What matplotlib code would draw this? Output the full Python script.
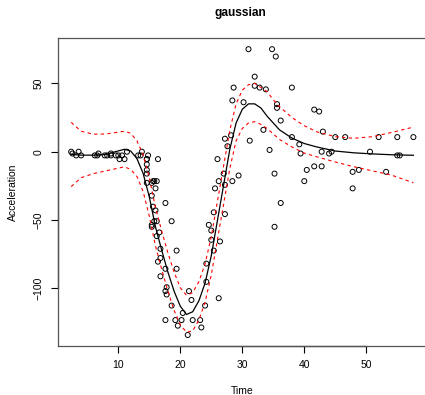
import numpy as np
import matplotlib
matplotlib.use("Agg")
from matplotlib import pyplot as plt
from matplotlib import transforms
from matplotlib import font_manager as fm

# pick regular (not narrow) Liberation Sans files
reg = [f for f in fm.findSystemFonts() if f.endswith('LiberationSans-Regular.ttf')]
bld = [f for f in fm.findSystemFonts() if f.endswith('LiberationSans-Bold.ttf')]
if reg:
    fp = fm.FontProperties(fname=reg[0], size=7.5)
else:
    fp = fm.FontProperties(family='DejaVu Sans', size=7.5)
if bld:
    fpb = fm.FontProperties(fname=bld[0], size=8.6)
else:
    fpb = fm.FontProperties(family='DejaVu Sans', weight='bold', size=8.6)

# mcycle data (time in ms, head acceleration in g)
times = [2.4, 2.6, 3.2, 3.6, 4.0, 6.2, 6.6, 6.8, 7.8, 8.2, 8.8, 8.8, 9.6, 10.0, 10.2,
         10.6, 11.0, 11.4, 13.2, 13.6, 13.8, 14.6, 14.6, 14.6, 14.6, 14.6, 14.6, 14.8,
         15.4, 15.4, 15.4, 15.4, 15.6, 15.6, 15.8, 15.8, 16.0, 16.0, 16.2, 16.2, 16.2,
         16.4, 16.4, 16.6, 16.8, 16.8, 16.8, 17.6, 17.6, 17.6, 17.6, 17.8, 17.8, 18.6,
         18.6, 19.2, 19.4, 19.4, 19.6, 20.2, 20.4, 21.2, 21.4, 21.8, 22.0, 23.2, 23.4,
         24.0, 24.2, 24.2, 24.6, 25.0, 25.0, 25.4, 25.4, 25.6, 26.0, 26.2, 26.2, 26.4,
         27.0, 27.2, 27.2, 27.2, 27.6, 28.2, 28.4, 28.4, 28.6, 29.4, 30.2, 31.0, 31.2,
         32.0, 32.0, 32.8, 33.4, 33.8, 34.4, 34.8, 35.2, 35.2, 35.4, 35.6, 35.6, 36.2,
         36.2, 38.0, 38.0, 39.2, 39.4, 40.0, 40.4, 41.6, 41.6, 42.4, 42.8, 42.8, 43.0,
         44.0, 44.4, 45.0, 46.6, 47.8, 47.8, 48.8, 50.6, 52.0, 53.2, 55.0, 55.0, 55.4,
         57.6]
accel = [0.0, -1.3, -2.7, 0.0, -2.7, -2.7, -2.7, -1.3, -2.7, -2.7, -1.3, -2.7, -2.7,
         -2.7, -5.4, -2.7, -5.4, 0.0, -2.7, -2.7, 0.0, -13.3, -5.4, -5.4, -9.3, -16.0,
         -22.8, -2.7, -22.8, -32.1, -53.5, -54.9, -40.2, -21.5, -21.5, -50.8, -42.9,
         -26.8, -21.5, -50.8, -61.7, -5.4, -80.4, -59.0, -71.0, -91.1, -77.7, -37.5,
         -85.6, -123.1, -101.9, -99.1, -104.4, -112.5, -50.8, -123.1, -85.6, -72.3,
         -127.2, -123.1, -117.9, -134.0, -101.9, -108.4, -123.1, -123.1, -128.5,
         -112.5, -95.1, -81.8, -53.5, -64.4, -57.6, -72.3, -44.3, -26.8, -5.4, -107.1,
         -21.5, -65.6, -16.0, -45.6, -24.2, 9.5, 4.0, 12.0, -21.5, 37.5, 46.9, -17.4,
         36.2, 75.0, 8.1, 54.9, 48.2, 46.9, 16.0, 45.6, 1.3, 75.0, -16.0, -54.9, 69.6,
         34.8, 32.1, -37.5, 22.8, 46.9, 10.7, 5.4, -1.3, -21.5, -13.3, 30.8, -10.7, 29.4,
         0.0, -10.7, 14.7, -1.3, 0.0, 10.7, 10.7, -26.8, -14.7, -13.3, 0.0, 10.7, -14.7,
         -2.7, 10.7, -2.7, 10.7]

# fitted curve and band
fit_t = [2.4, 4, 6, 8, 9.5, 11, 12, 13, 14, 15, 16, 17, 18, 19, 20, 21, 22, 23, 24, 25,
         26, 27, 28, 29, 30, 31, 32, 33, 34, 35, 36, 38, 40, 42, 45, 48, 51, 54, 57.6]
fit_mean = [-2.0, -2.5, -2.5, -2.0, 0.0, 1.8, 0.5, -5, -15.8, -33, -55, -72, -88, -102,
            -113, -119, -117, -109, -96, -76, -50, -24, 2, 21, 31, 35, 35, 32, 26, 21,
            16, 10, 6, 3.5, 0.5, -0.8, -1.6, -2.2, -2.6]
fit_upper = [21.5, 15, 12.8, 13, 14, 15, 13.5, 8, -2, -19, -41, -58, -74, -88, -99.5,
             -105, -103, -95, -82, -62, -36, -10, 16, 35, 45, 49, 50, 47, 44, 38, 33, 25,
             19, 14.6, 11, 9.8, 11, 14, 18]
fit_lower = [-25.5, -19, -16, -14, -12.5, -11, -13, -18, -29, -47, -69, -86, -102, -116,
             -126.5, -132, -131, -123, -110, -90, -64, -38, -12, 8, 17, 21, 22, 20, 17,
             13, 9, 3.5, -1, -3.7, -7.5, -11, -14, -17, -22.7]

xticks = [10, 20, 30, 40, 50]
yticks = [-100, -50, 0, 50]

fig = plt.figure(figsize=(4.25, 3.95), dpi=100)
ax = fig.add_axes([0.1353, 0.123, 0.8696, 0.7815])

ax.scatter(times, accel, s=13, facecolors='none', edgecolors='black', linewidths=0.7,
           zorder=3)
ax.plot(fit_t, fit_mean, color='black', lw=0.9, zorder=4)
ax.plot(fit_t, fit_upper, color='red', lw=0.8, ls=(0, (3, 3)), zorder=4)
ax.plot(fit_t, fit_lower, color='red', lw=0.8, ls=(0, (3, 3)), zorder=4)

ax.set_xlim(0.192, 59.808)
ax.set_ylim(-142.36, 83.36)

ax.set_xticks(xticks)
ax.set_xticklabels([str(v) for v in xticks], fontproperties=fp)
ax.set_yticks(yticks)
ax.set_yticklabels([str(v).replace('-', '\u2212') for v in yticks], rotation=90,
                   va='center', fontproperties=fp)
ax.tick_params(length=5, width=0.8, pad=5)

for sp in ax.spines.values():
    sp.set_color('#555555')
    sp.set_linewidth(0.9)

# R style axis lines spanning first to last tick
tb = transforms.blended_transform_factory(ax.transData, ax.transAxes)
ax.plot([xticks[0], xticks[-1]], [0, 0], color='black', lw=0.9, transform=tb,
        clip_on=False)
tl = transforms.blended_transform_factory(ax.transAxes, ax.transData)
ax.plot([0, 0], [yticks[0], yticks[-1]], color='black', lw=0.9, transform=tl,
        clip_on=False)

ax.set_xlabel('Time', fontproperties=fp, labelpad=11)
ax.set_ylabel('Acceleration', fontproperties=fp, labelpad=11)
fig.text(0.5647, 1 - 13 / 395, 'gaussian', ha='center', va='center',
         fontproperties=fpb)

fig.savefig('out.png', dpi=100)
